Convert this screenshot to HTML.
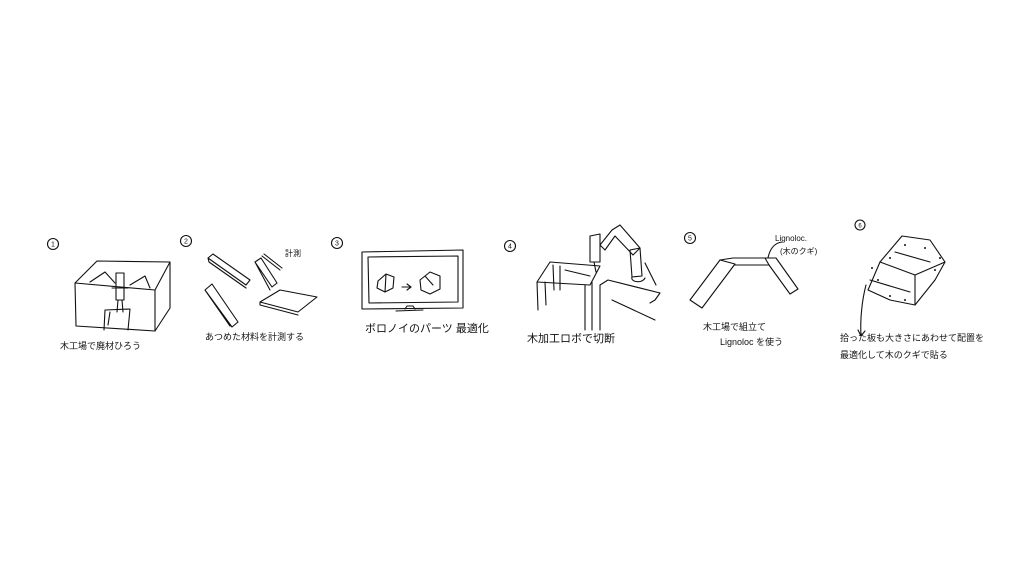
<!DOCTYPE html>
<html><head><meta charset="utf-8"><style>
html,body{margin:0;padding:0;background:#fff;}
svg{display:block}
text{font-family:"Liberation Sans","Noto Sans CJK JP",sans-serif;fill:#111}
</style></head><body>
<svg width="1030" height="580" viewBox="0 0 1030 580" xmlns="http://www.w3.org/2000/svg">
<g fill="none" stroke="#111" stroke-width="1.1" stroke-linecap="round" stroke-linejoin="round">
<!-- panel 1 -->
<circle cx="53" cy="244" r="5.5"/>
<path d="M75 283 L97 261 L170 262 L155 290 L75 283 Z"/>
<path d="M75 283 L76 326 M155 290 L155 331 L76 326 M170 262 L170 308 L155 331"/>
<path d="M90 282 L105 272 L115 283 M130 285 L145 276 L150 288"/>
<path d="M116 273 L124 273 L124 300 L116 300 Z M118 300 L117 312 M122 300 L123 312 M112 288 L128 288"/>
<path d="M105 310 L130 309 L128 330 M105 310 L104 330 M110 312 L108 325"/>
<!-- panel 2 -->
<circle cx="186" cy="241" r="5.5"/>
<path d="M208 258 L213 254 L250 280 L246 285 Z M208 258 L209 262 L246 288"/>
<path d="M255 262 L261 258 L277 283 L272 287 Z M255 262 L270 290"/>
<path d="M262 256 L280 270 M264 254 L282 268"/>
<path d="M205 290 L212 284 L238 322 L232 327 Z M205 290 L230 326"/>
<path d="M260 302 L280 290 L317 297 L298 312 Z M260 302 L260 305 L298 315"/>
<!-- panel 3 -->
<circle cx="337" cy="243" r="5.5"/>
<path d="M362 252 L463 250 L463 308 L362 309 Z M368 257 L458 256 L458 302 L369 303 Z"/>
<path d="M405 309 L407 306 L413 306 L415 309 M396 311 L423 310"/>
<path d="M378 281 L386 274 L394 277 L393 288 L385 292 L377 288 Z M386 274 L385 292"/>
<path d="M402 287 L410 287 M407 284 L411 287 L407 290"/>
<path d="M420 280 L430 272 L440 276 L440 289 L430 294 L421 290 Z M425 276 L433 285"/>
<!-- panel 4 -->
<circle cx="510" cy="246" r="5.5"/>
<path d="M537 282 L550 262 L600 266 L590 285 Z M537 282 L538 310 M545 282 L546 305 M585 285 L585 330 M592 282 L592 330"/>
<path d="M553 265 L554 290 M560 266 L560 290 M565 270 L590 276"/>
<path d="M590 236 L600 234 L600 262 L590 262 Z M594 262 L596 272"/>
<path d="M600 245 L612 230 L620 225 L640 248 L633 255 L615 236 L605 250 Z M630 250 L640 248 L642 276 L632 277 Z M632 277 C630 282 642 284 645 278"/>
<path d="M600 285 L608 280 L660 293 L655 300 L650 303 M600 285 L600 330 M612 300 L655 320"/>
<path d="M645 263 L656 285"/>
<!-- panel 5 -->
<circle cx="690" cy="238" r="5.5"/>
<path d="M690 300 L720 260 L735 264 L702 308 Z"/>
<path d="M720 260 L733 258 L765 258 L769 265 L735 265"/>
<path d="M765 258 L776 258 L798 289 L790 294 L769 265"/>
<path d="M768 258 C770 248 775 243 782 242"/>
<!-- panel 6 -->
<circle cx="860" cy="225" r="5"/>
<path d="M880 262 L902 236 L930 240 L945 262 L935 280 L915 305 L890 300 L868 290 Z"/>
<path d="M880 262 L915 275 L945 262 M915 275 L915 305 M870 280 L910 292 M895 252 L930 262"/>
<path d="M866 285 C862 300 860 320 861 335 M858 330 L861 336 L865 331"/>
</g>
<g fill="#111">
<circle cx="878" cy="280" r="1"/><circle cx="890" cy="296" r="1"/><circle cx="905" cy="245" r="1"/><circle cx="925" cy="248" r="1"/><circle cx="935" cy="270" r="1"/><circle cx="905" cy="300" r="1"/><circle cx="890" cy="258" r="1"/><circle cx="940" cy="258" r="1"/><circle cx="872" cy="268" r="1"/>
</g>
<g font-size="7" text-anchor="middle">
<text x="53" y="246.5">1</text>
<text x="186" y="243.5">2</text>
<text x="337" y="245.5">3</text>
<text x="510" y="248.5">4</text>
<text x="690" y="240.5">5</text>
<text x="860" y="227.5" font-size="6">6</text>
</g>
<g font-size="9">
<text x="60" y="349">木工場で廃材ひろう</text>
<text x="205" y="340">あつめた材料を計測する</text>
<text x="285" y="256" font-size="8">計測</text>
<text x="365" y="332" font-size="11">ボロノイのパーツ 最適化</text>
<text x="527" y="342" font-size="11">木加工ロボで切断</text>
<text x="703" y="330">木工場で組立て</text>
<text x="720" y="345">Lignoloc を使う</text>
<text x="775" y="241" font-size="8">Lignoloc.</text>
<text x="780" y="254" font-size="8">(木のクギ)</text>
<text x="840" y="341">拾った板も大きさにあわせて配置を</text>
<text x="840" y="358">最適化して木のクギで貼る</text>
</g>
</svg>
</body></html>
